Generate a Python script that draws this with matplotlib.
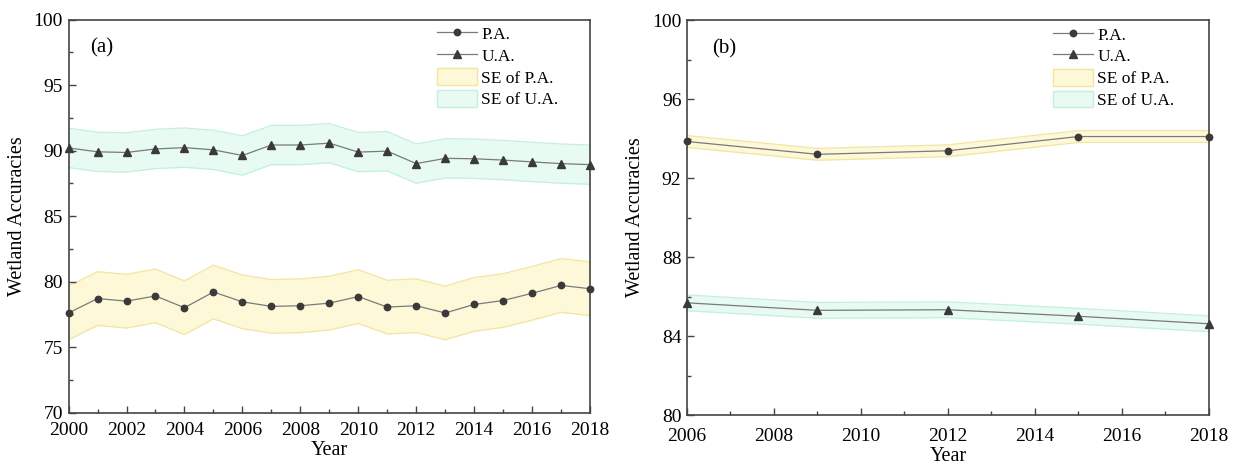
import matplotlib
matplotlib.use("Agg")
import matplotlib.pyplot as plt
from matplotlib.ticker import MultipleLocator
from matplotlib.lines import Line2D
from matplotlib.patches import Patch

plt.rcParams['font.family'] = ['Liberation Serif', 'DejaVu Serif']

# ---------------- data ----------------
years_a = [2000, 2001, 2002, 2003, 2004, 2005, 2006, 2007, 2008, 2009,
           2010, 2011, 2012, 2013, 2014, 2015, 2016, 2017, 2018]
pa_a = [77.6, 78.7, 78.5, 78.9, 78.0, 79.2, 78.45, 78.1, 78.15, 78.35,
        78.85, 78.05, 78.15, 77.6, 78.25, 78.55, 79.1, 79.7, 79.45]
ua_a = [90.2, 89.9, 89.85, 90.12, 90.22, 90.05, 89.62, 90.42, 90.42, 90.56,
        89.88, 89.95, 89.0, 89.4, 89.37, 89.27, 89.13, 89.0, 88.92]
se_pa_a = 2.05
se_ua_a = 1.5

years_b = [2006, 2009, 2012, 2015, 2018]
pa_b = [93.85, 93.2, 93.38, 94.1, 94.1]
ua_b = [85.68, 85.3, 85.33, 85.0, 84.62]
se_pa_b = 0.3
se_ua_b = 0.4

legend_labels = ["P.A.", "U.A.", "SE of P.A.", "SE of U.A."]

# ---------------- style ----------------
line_c = "#7a7a7a"
mark_c = "#3a3a3a"
pa_fill = "#fdf9d8"
pa_edge = "#f3e4a0"
ua_fill = "#e7fbf2"
ua_edge = "#c4efdd"
spine_c = "#444444"
ms_o = 4.6
ms_t = 5.2

fig = plt.figure(figsize=(12.38, 4.70), dpi=100)
ax_a = fig.add_axes([0.0554, 0.1223, 0.4212, 0.8362])
ax_b = fig.add_axes([0.5549, 0.1170, 0.4216, 0.8404])


def draw(ax, years, pa, ua, se_pa, se_ua):
    pa_lo = [v - se_pa for v in pa]
    pa_hi = [v + se_pa for v in pa]
    ua_lo = [v - se_ua for v in ua]
    ua_hi = [v + se_ua for v in ua]
    ax.fill_between(years, pa_lo, pa_hi, color=pa_fill, lw=0, zorder=1)
    ax.plot(years, pa_lo, color=pa_edge, lw=0.9, zorder=1.5)
    ax.plot(years, pa_hi, color=pa_edge, lw=0.9, zorder=1.5)
    ax.fill_between(years, ua_lo, ua_hi, color=ua_fill, lw=0, zorder=1)
    ax.plot(years, ua_lo, color=ua_edge, lw=0.9, zorder=1.5)
    ax.plot(years, ua_hi, color=ua_edge, lw=0.9, zorder=1.5)
    ax.plot(years, pa, color=line_c, lw=0.9, zorder=2)
    ax.plot(years, ua, color=line_c, lw=0.9, zorder=2)
    ax.plot(years, pa, ls='none', marker='o', ms=ms_o, color=mark_c,
            zorder=3, clip_on=False)
    ax.plot(years, ua, ls='none', marker='^', ms=ms_t, color=mark_c,
            zorder=3, clip_on=False)


def style(ax, xlim, ylim, xmaj, ymaj, xpad, xlabelpad):
    ax.set_xlim(*xlim)
    ax.set_ylim(*ylim)
    ax.xaxis.set_major_locator(MultipleLocator(xmaj))
    ax.xaxis.set_minor_locator(MultipleLocator(xmaj / 2))
    ax.yaxis.set_major_locator(MultipleLocator(ymaj))
    ax.yaxis.set_minor_locator(MultipleLocator(ymaj / 2))
    ax.tick_params(which='both', direction='in', top=False, right=False,
                   color=spine_c, width=1.0)
    ax.tick_params(which='major', length=5, labelsize=14, pad=4)
    ax.tick_params(axis='x', which='major', pad=xpad)
    ax.tick_params(which='minor', length=3)
    for s in ax.spines.values():
        s.set_color(spine_c)
        s.set_linewidth(1.2)
    ax.set_xlabel("Year", fontsize=14.5, labelpad=xlabelpad)
    ax.set_ylabel("Wetland Accuracies", fontsize=14.5, labelpad=5)


def legend(ax, anchor_x):
    handles = [
        Line2D([], [], color=line_c, lw=0.9, marker='o', ms=ms_o,
               markerfacecolor=mark_c, markeredgecolor=mark_c),
        Line2D([], [], color=line_c, lw=0.9, marker='^', ms=ms_t,
               markerfacecolor=mark_c, markeredgecolor=mark_c),
        Patch(facecolor=pa_fill, edgecolor=pa_edge, lw=1.0),
        Patch(facecolor=ua_fill, edgecolor=ua_edge, lw=1.0),
    ]
    ax.legend(handles, legend_labels, loc='upper left',
              bbox_to_anchor=(anchor_x, 0.995), frameon=False,
              fontsize=12.5, handlelength=2.3, handleheight=1.1,
              handletextpad=0.25, labelspacing=0.2, borderpad=0.2,
              borderaxespad=0.0, numpoints=1)


draw(ax_a, years_a, pa_a, ua_a, se_pa_a, se_ua_a)
style(ax_a, (2000, 2018), (70, 100), 2, 5, 7, 1)
legend(ax_a, 0.70)
ax_a.text(0.041, 0.927, "(a)", transform=ax_a.transAxes, fontsize=15,
          va='center', ha='left')

draw(ax_b, years_b, pa_b, ua_b, se_pa_b, se_ua_b)
style(ax_b, (2006, 2018), (80, 100), 2, 4, 9, 2)
legend(ax_b, 0.695)
ax_b.text(0.048, 0.927, "(b)", transform=ax_b.transAxes, fontsize=15,
          va='center', ha='left')

fig.savefig("out.png", dpi=100)
